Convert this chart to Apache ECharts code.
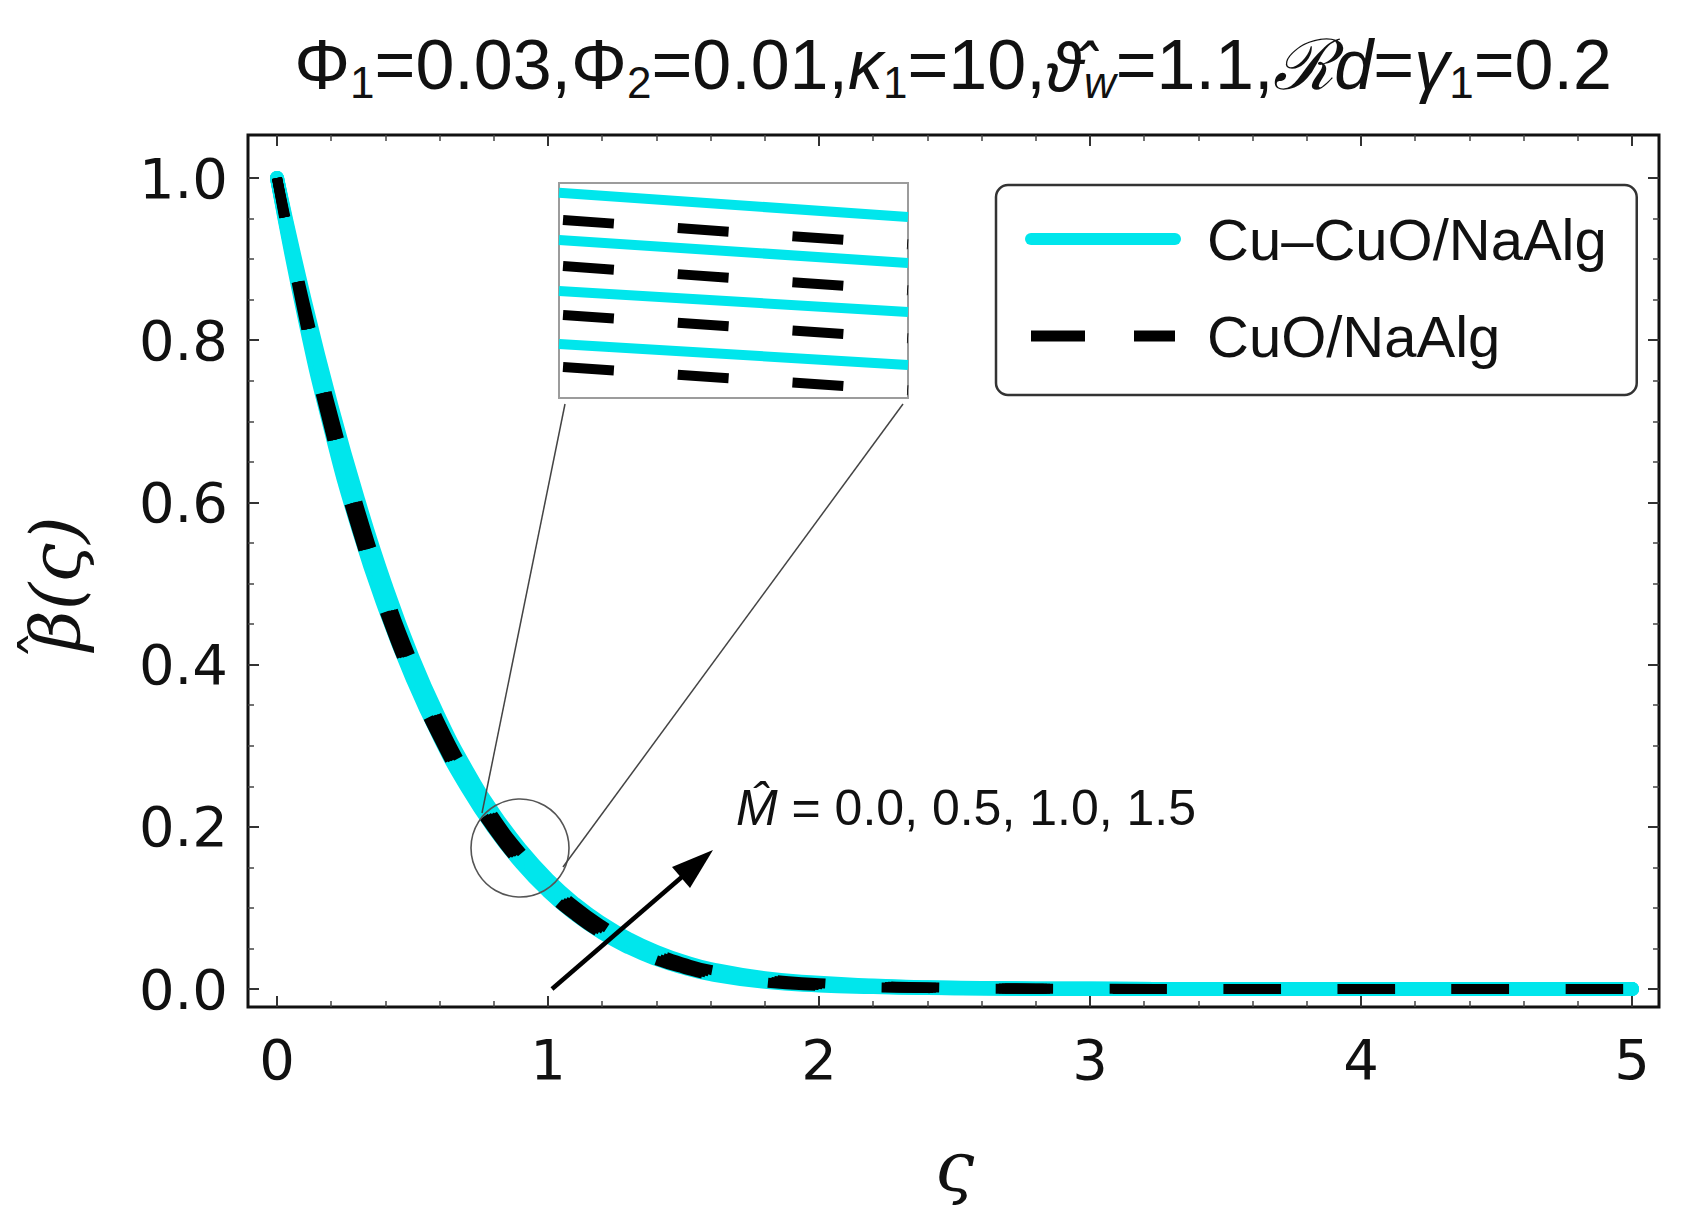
<!DOCTYPE html>
<html><head><meta charset="utf-8">
<script src="https://cdn.jsdelivr.net/npm/echarts@6/dist/echarts.min.js"></script>
<style>html,body{margin:0;padding:0;background:#fff}#c{width:1689px;height:1230px}</style>
</head><body><div id="c"></div>
<script>
// ---- data ----
const zeta = [0,0.1,0.2,0.3,0.4,0.5,0.6,0.7,0.8,0.9,1.0,1.1,1.2,1.3,1.4,1.5,1.6,1.8,2.0,2.2,2.4,2.6,2.8,3.0,3.5,4.0,4.5,5.0];
// Cu-CuO/NaAlg, M = 0.0, 0.5, 1.0, 1.5
const cu_M00 = [1,0.8301,0.6877,0.5675,0.4678,0.3829,0.3105,0.2494,0.1983,0.1558,0.1207,0.0922,0.0692,0.0511,0.0370,0.0264,0.0183,0.0088,0.0044,0.0024,0.0012,0.0006,0.0004,0.0002,0,0,0,0];
const cu_M05 = [1,0.8376,0.6985,0.5792,0.4780,0.3916,0.3182,0.2562,0.2043,0.1611,0.1254,0.0964,0.0730,0.0544,0.0399,0.0288,0.0204,0.0103,0.0055,0.0030,0.0015,0.0008,0.0004,0.0002,0,0,0,0];
const cu_M10 = [1,0.8451,0.7093,0.5909,0.4882,0.4003,0.3259,0.2630,0.2103,0.1664,0.1301,0.1006,0.0768,0.0577,0.0428,0.0312,0.0225,0.0118,0.0066,0.0036,0.0018,0.0010,0.0004,0.0002,0,0,0,0];
const cu_M15 = [1,0.8526,0.7201,0.6026,0.4984,0.4090,0.3336,0.2698,0.2163,0.1717,0.1348,0.1048,0.0806,0.0610,0.0457,0.0336,0.0246,0.0133,0.0077,0.0042,0.0021,0.0012,0.0004,0.0002,0,0,0,0];
// CuO/NaAlg, M = 0.0, 0.5, 1.0, 1.5
const cuo_M00 = [1,0.8264,0.6823,0.5616,0.4627,0.3786,0.3066,0.2460,0.1953,0.1531,0.1184,0.0901,0.0673,0.0494,0.0355,0.0252,0.0172,0.0081,0.0039,0.0021,0.0011,0.0005,0.0004,0.0002,0,0,0,0];
const cuo_M05 = [1,0.8339,0.6931,0.5733,0.4729,0.3873,0.3143,0.2528,0.2013,0.1584,0.1231,0.0943,0.0711,0.0527,0.0384,0.0276,0.0193,0.0096,0.0050,0.0027,0.0014,0.0007,0.0004,0.0002,0,0,0,0];
const cuo_M10 = [1,0.8414,0.7039,0.5850,0.4831,0.3960,0.3220,0.2596,0.2073,0.1637,0.1278,0.0985,0.0749,0.0560,0.0413,0.0300,0.0214,0.0111,0.0061,0.0033,0.0017,0.0009,0.0004,0.0002,0,0,0,0];
const cuo_M15 = [1,0.8489,0.7147,0.5967,0.4933,0.4047,0.3297,0.2664,0.2133,0.1690,0.1325,0.1027,0.0787,0.0593,0.0442,0.0324,0.0235,0.0126,0.0072,0.0039,0.0020,0.0011,0.0004,0.0002,0,0,0,0];
// zoomed inset window around zeta = 0.9
const insetZeta = [0.89678, 0.90322];
const insetBeta = [0.15117, 0.17404];
const inCu_M00 = [0.15692, 0.15468];
const inCu_M05 = [0.16255, 0.16032];
const inCu_M10 = [0.16798, 0.16553];
const inCu_M15 = [0.17300, 0.17042];
const inCuO_M00 = [0.15449, 0.15199];
const inCuO_M05 = [0.16002, 0.15752];
const inCuO_M10 = [0.16523, 0.16263];
const inCuO_M15 = [0.17013, 0.16752];
const xTickValues = [0,1,2,3,4,5];
const yTickValues = [0.0,0.2,0.4,0.6,0.8,1.0];
const NAME_A = 'Cu–CuO/NaAlg';
const NAME_B = 'CuO/NaAlg';
const annotText = '{i|M̂} = 0.0, 0.5, 1.0, 1.5';

// ---- styling ----
const CYAN = '#00e6ec';
const pairs = (xs, ys) => xs.map((x, i) => [x, ys[i]]);
const tickFont = {fontSize: 56, fontFamily: 'DejaVu Sans', color: '#111'};
const mathName = {fontSize: 70, fontFamily: 'DejaVu Serif', fontStyle: 'italic', color: '#111', lineHeight: 84,
  rich: {
    hat: {width: 0, fontSize: 60, fontStyle: 'normal', fontFamily: 'DejaVu Serif', color: '#111', lineHeight: 46, verticalAlign: 'top'},
    m: {fontSize: 70, fontFamily: 'DejaVu Serif', fontStyle: 'italic', color: '#111', lineHeight: 84}
  }};

function mainAxisX(pos, offset, showLabel) {
  return {
    type: 'value', gridIndex: 1, position: pos, offset: offset,
    min: xTickValues[0], max: xTickValues[xTickValues.length-1], interval: 1,
    axisLine: {show: false, onZero: false},
    axisTick: {show: true, inside: true, length: 11, lineStyle: {color: '#333', width: 2}},
    minorTick: {show: true, splitNumber: 5, length: 6, lineStyle: {color: '#444', width: 1.5}},
    splitLine: {show: false},
    axisLabel: {show: showLabel, margin: 24, ...tickFont, formatter: v => String(v)},
    name: showLabel ? '{m|ς}' : '', nameLocation: 'middle', nameGap: 118, nameTextStyle: mathName
  };
}
function mainAxisY(pos, offset, showLabel) {
  return {
    type: 'value', gridIndex: 1, position: pos, offset: offset,
    min: yTickValues[0], max: yTickValues[yTickValues.length-1], interval: 0.2,
    axisLine: {show: false, onZero: false},
    axisTick: {show: true, inside: true, length: 11, lineStyle: {color: '#333', width: 2}},
    minorTick: {show: true, splitNumber: 4, length: 6, lineStyle: {color: '#444', width: 1.5}},
    splitLine: {show: false},
    axisLabel: {show: showLabel, margin: 20, ...tickFont, formatter: v => v.toFixed(1)},
    name: showLabel ? '{hat|\u2009ˆ}{m|β(ς)}' : '', nameLocation: 'middle', nameGap: 150, nameTextStyle: mathName
  };
}

const cuSeries = [cu_M00, cu_M05, cu_M10, cu_M15].map(arr => ({
  type: 'line', name: NAME_A, xAxisIndex: 1, yAxisIndex: 1,
  data: pairs(zeta, arr), symbol: 'none', smooth: true, clip: false, silent: true, z: 2,
  lineStyle: {color: CYAN, width: 14, cap: 'round', join: 'round'}
}));
const cuoSeries = [cuo_M00, cuo_M05, cuo_M10, cuo_M15].map(arr => ({
  type: 'line', name: NAME_B, xAxisIndex: 1, yAxisIndex: 1,
  data: pairs(zeta, arr), symbol: 'none', smooth: true, clip: false, silent: true, z: 3,
  lineStyle: {color: '#000', width: 10, type: [48, 66], dashOffset: 8, cap: 'butt', join: 'round'}
}));
const inCuSeries = [inCu_M00, inCu_M05, inCu_M10, inCu_M15].map(arr => ({
  type: 'line', name: NAME_A, xAxisIndex: 3, yAxisIndex: 3,
  data: pairs(insetZeta, arr), symbol: 'none', clip: true, silent: true, z: 4,
  lineStyle: {color: CYAN, width: 10, cap: 'butt'}
}));
const inCuoSeries = [inCuO_M00, inCuO_M05, inCuO_M10, inCuO_M15].map(arr => ({
  type: 'line', name: NAME_B, xAxisIndex: 3, yAxisIndex: 3,
  data: pairs(insetZeta, arr), symbol: 'none', clip: true, silent: true, z: 5,
  lineStyle: {color: '#000', width: 10, type: [51, 64], dashOffset: 111, cap: 'butt'}
}));

const chart = echarts.init(document.getElementById('c'), null, {renderer: 'svg', width: 1689, height: 1230});
chart.setOption({
  backgroundColor: '#fff',
  animation: false,
  title: {
    text: 'Φ{s|1}=0.03,Φ{s|2}=0.01,{i|κ}{s|1}=10,{t|ϑ̂}{si|w}=1.1,{i|ℛd}={i|γ}{s|1}=0.2',
    left: 953, top: 26, textAlign: 'center', padding: 0,
    textStyle: {
      fontSize: 70, fontWeight: 'normal', fontFamily: 'Liberation Sans', color: '#111', lineHeight: 78,
      rich: {
        s: {fontSize: 44, lineHeight: 34, verticalAlign: 'bottom', fontFamily: 'Liberation Sans', color: '#111'},
        si: {fontSize: 44, lineHeight: 34, verticalAlign: 'bottom', fontStyle: 'italic', fontFamily: 'Liberation Sans', color: '#111'},
        i: {fontSize: 70, fontStyle: 'italic', fontFamily: 'Liberation Sans', color: '#111', lineHeight: 78},
        t: {fontSize: 66, fontStyle: 'italic', fontFamily: 'Noto Sans', color: '#111', lineHeight: 78}
      }
    }
  },
  legend: {
    orient: 'vertical', left: 996, top: 185, padding: [25, 30, 30, 29],
    itemWidth: 144, itemHeight: 58, itemGap: 39,
    borderColor: '#333', borderWidth: 2.5, borderRadius: 12, backgroundColor: '#fff',
    selectedMode: false,
    formatter: n => '{sp|}' + n,
    textStyle: {fontSize: 58, fontFamily: 'Liberation Sans', color: '#111', rich: {sp: {width: 27}}},
    data: [
      {name: NAME_A, itemStyle: {opacity: 0}, lineStyle: {color: CYAN, width: 12, type: 'solid', cap: 'round', opacity: 1}},
      {name: NAME_B, itemStyle: {opacity: 0}, lineStyle: {color: '#000', width: 11, type: [62, 49], cap: 'butt', opacity: 1}}
    ]
  },
  grid: [
    {left: 248, top: 135, width: 1411, height: 872, show: true, borderColor: '#111', borderWidth: 3, backgroundColor: '#fff', containLabel: false},
    {left: 277, top: 178, width: 1355, height: 811, containLabel: false},
    {left: 559, top: 183, width: 349, height: 215, show: true, borderColor: '#9c9c9c', borderWidth: 2, backgroundColor: '#fff', containLabel: false}
  ],
  xAxis: [
    {type: 'value', gridIndex: 0, show: false, min: -0.107, max: 5.1},
    mainAxisX('bottom', 18, true),
    mainAxisX('top', 43, false),
    {type: 'value', gridIndex: 2, show: false, min: insetZeta[0], max: insetZeta[1]}
  ],
  yAxis: [
    {type: 'value', gridIndex: 0, show: false, min: -0.022, max: 1.053},
    mainAxisY('left', 29, true),
    mainAxisY('right', 27, false),
    {type: 'value', gridIndex: 2, show: false, min: insetBeta[0], max: insetBeta[1]}
  ],
  series: [...cuSeries, ...cuoSeries, ...inCuSeries, ...inCuoSeries],
  graphic: [
    {type: 'circle', shape: {cx: 520, cy: 848, r: 49}, style: {fill: 'none', stroke: '#555', lineWidth: 1.6}, z: 10},
    {type: 'line', shape: {x1: 565, y1: 404, x2: 482, y2: 813}, style: {stroke: '#444', lineWidth: 1.5}, z: 10},
    {type: 'line', shape: {x1: 903, y1: 404, x2: 563, y2: 867}, style: {stroke: '#444', lineWidth: 1.5}, z: 10},
    {type: 'line', shape: {x1: 552, y1: 989, x2: 683, y2: 876}, style: {stroke: '#000', lineWidth: 4.5}, z: 10},
    {type: 'polygon', shape: {points: [[713, 850], [690, 888], [672, 867]]}, style: {fill: '#000'}, z: 10},
    {type: 'text', x: 736, y: 808, z: 10,
     style: {text: annotText, fontSize: 50, fontFamily: 'Liberation Sans', fill: '#111',
             textAlign: 'left', textVerticalAlign: 'middle', align: 'left', verticalAlign: 'middle',
             rich: {i: {fontStyle: 'italic', fontSize: 50, fontFamily: 'Liberation Sans'}}}}
  ]
});
</script></body></html>
